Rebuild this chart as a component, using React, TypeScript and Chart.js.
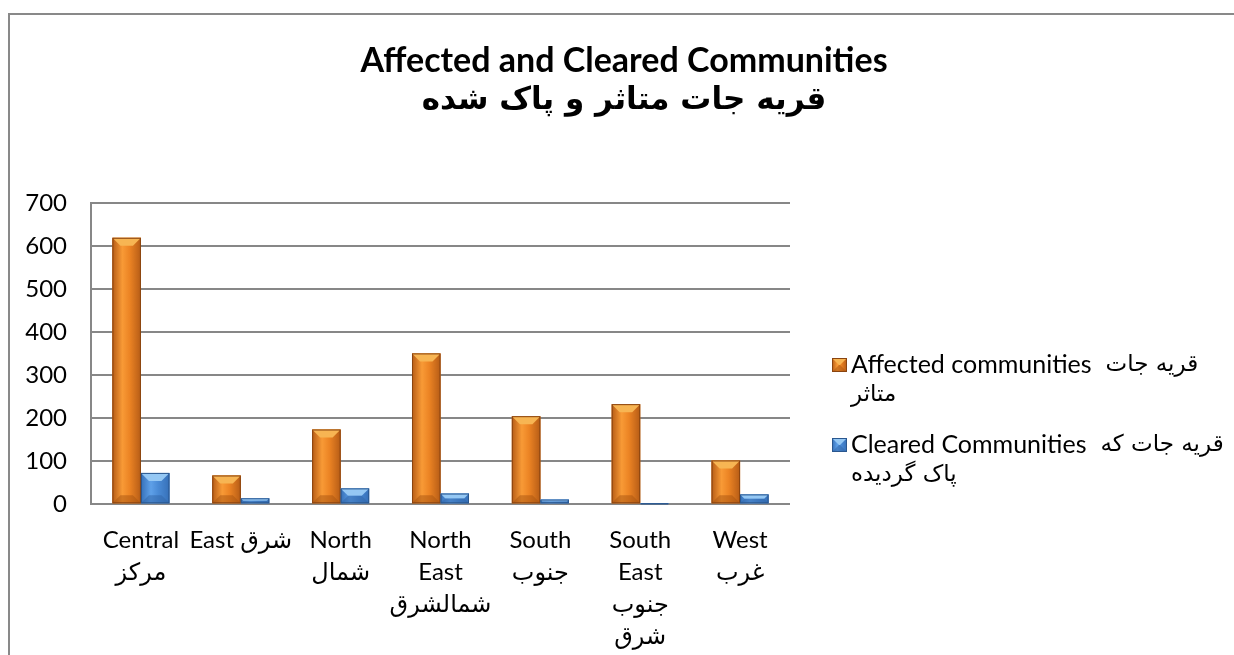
import React, { useEffect, useRef } from "react";
import { Chart, registerables } from "chart.js";

Chart.register(...registerables);

const titleLines = ["Affected and Cleared Communities", "قریه جات متاثر و پاک شده"];
const categoryLabels: string[][] = [
  ["Central", "مرکز"],
  ["East شرق"],
  ["North", "شمال"],
  ["North", "East", "شمالشرق"],
  ["South", "جنوب"],
  ["South", "East", "جنوب", "شرق"],
  ["West", "غرب"],
];
const affected = [620, 67, 174, 351, 205, 233, 102];
const cleared = [73, 14, 37, 25, 11, 1, 23];
const seriesNamesEn = ["Affected communities", "Cleared Communities"];
const seriesNamesFa = ["قریه جات", "قریه جات که"];
const seriesNamesFaLine2 = ["متاثر", "پاک گردیده"];

const FONT = "Lato, 'DejaVu Sans', sans-serif";
const AR_FONT = "'DejaVu Sans', sans-serif";

const palettes = [
  { base: "#EC8424", light: "#F89A36", dark: "#B65C16", top: "#F7B553", bottom: "#A8530F", edge: "#8A4410" },
  { base: "#4A8BD6", light: "#5EA0E8", dark: "#3670B8", top: "#95C8F4", bottom: "#2F64A6", edge: "#2A578F" },
];

function drawBevel(ctx: CanvasRenderingContext2D, left: number, top: number, right: number, bottom: number, p: any) {
  const w = right - left;
  const h = bottom - top;
  if (w <= 0 || h <= 0) return;
  const b = Math.min(8, h / 2, w / 2);
  const g = ctx.createLinearGradient(left, 0, right, 0);
  g.addColorStop(0, p.dark);
  g.addColorStop(0.35, p.light);
  g.addColorStop(0.6, p.base);
  g.addColorStop(1, p.dark);
  ctx.fillStyle = g;
  ctx.fillRect(left, top, w, h);
  ctx.fillStyle = p.top;
  ctx.beginPath();
  ctx.moveTo(left, top);
  ctx.lineTo(right, top);
  ctx.lineTo(right - b, top + b);
  ctx.lineTo(left + b, top + b);
  ctx.closePath();
  ctx.fill();
  ctx.fillStyle = p.bottom;
  ctx.beginPath();
  ctx.moveTo(left, bottom);
  ctx.lineTo(right, bottom);
  ctx.lineTo(right - b, bottom - b);
  ctx.lineTo(left + b, bottom - b);
  ctx.closePath();
  ctx.globalAlpha = 0.5;
  ctx.fill();
  ctx.globalAlpha = 1;
  ctx.strokeStyle = p.edge;
  ctx.lineWidth = 1;
  ctx.strokeRect(left + 0.5, top + 0.5, Math.max(0, w - 1), Math.max(0, h - 1));
}

const bevelPlugin = {
  id: "bevelBars",
  afterDatasetsDraw(chart: any) {
    const ctx = chart.ctx as CanvasRenderingContext2D;
    ctx.save();
    chart.data.datasets.forEach((_ds: any, i: number) => {
      const meta = chart.getDatasetMeta(i);
      meta.data.forEach((el: any) => {
        const { x, y, base, width } = el.getProps(["x", "y", "base", "width"], true);
        const top = Math.min(y, base);
        const bottom = Math.max(y, base);
        drawBevel(ctx, x - width / 2, top, x + width / 2, bottom, palettes[i]);
      });
    });
    ctx.restore();
  },
};

const titlePlugin = {
  id: "centeredTitle",
  afterDraw(chart: any) {
    const ctx = chart.ctx as CanvasRenderingContext2D;
    const cx = chart.width / 2;
    ctx.save();
    ctx.fillStyle = "#000";
    ctx.textAlign = "center";
    ctx.textBaseline = "middle";
    ctx.font = `bold 34px ${FONT}`;
    ctx.fillText(titleLines[0], cx, 46);
    ctx.font = `bold 31px ${AR_FONT}`;
    ctx.fillText(titleLines[1], cx, 86);
    ctx.restore();
  },
};

const legendPlugin = {
  id: "customLegend",
  afterDraw(chart: any) {
    const ctx = chart.ctx as CanvasRenderingContext2D;
    const area = chart.chartArea;
    const x0 = area.right + 42;
    const ys = [350, 430];
    ctx.save();
    ctx.textBaseline = "middle";
    ctx.textAlign = "left";
    seriesNamesEn.forEach((name, i) => {
      const y = ys[i];
      drawBevel(ctx, x0, y - 7, x0 + 15, y + 7, palettes[i]);
      ctx.fillStyle = "#000";
      ctx.font = `25px ${FONT}`;
      ctx.fillText(name, x0 + 19, y);
      const w = ctx.measureText(name).width;
      ctx.font = `23px ${AR_FONT}`;
      ctx.fillText(seriesNamesFa[i], x0 + 19 + w + 14, y);
      ctx.fillText(seriesNamesFaLine2[i], x0 + 19, y + 30);
    });
    ctx.restore();
  },
};

export default function App() {
  const ref = useRef<HTMLCanvasElement | null>(null);
  useEffect(() => {
    if (!ref.current) return;
    const chart = new Chart(ref.current, {
      type: "bar",
      data: {
        labels: categoryLabels as any,
        datasets: [
          { label: seriesNamesEn[0], data: affected, backgroundColor: palettes[0].base, borderWidth: 0, categoryPercentage: 0.571, barPercentage: 1 },
          { label: seriesNamesEn[1], data: cleared, backgroundColor: palettes[1].base, borderWidth: 0, categoryPercentage: 0.571, barPercentage: 1 },
        ],
      },
      options: {
        responsive: false,
        animation: false,
        layout: { padding: { left: 0, right: 448, top: 188.4, bottom: 0 } },
        plugins: {
          legend: { display: false },
          tooltip: { enabled: false },
          title: { display: false },
        },
        scales: {
          x: {
            grid: { display: false, drawTicks: false },
            border: { display: false },
            ticks: {
              color: "#000",
              font: { family: FONT, size: 24, lineHeight: "32px" as any },
              maxRotation: 0,
              autoSkip: false,
              padding: 20,
            },
            afterFit: (scale: any) => {
              scale.height = 150.7;
            },
          } as any,
          y: {
            min: 0,
            max: 700,
            ticks: {
              stepSize: 100,
              color: "#000",
              font: { family: FONT, size: 24 },
              padding: 24,
            },
            grid: { color: "#878787", lineWidth: 2, drawTicks: false },
            border: { display: true, color: "#878787", width: 2 },
            afterFit: (scale: any) => {
              scale.width = 81;
            },
          } as any,
        },
      },
      plugins: [bevelPlugin, titlePlugin, legendPlugin],
    });
    return () => chart.destroy();
  }, []);
  return (
    <div
      style={{
        position: "fixed",
        left: 8,
        top: 13,
        width: 1228,
        height: 660,
        borderLeft: "2px solid #898989",
        borderTop: "2px solid #898989",
        background: "#fff",
      }}
    >
      <canvas ref={ref} width={1228} height={640} style={{ display: "block" }} />
    </div>
  );
}
